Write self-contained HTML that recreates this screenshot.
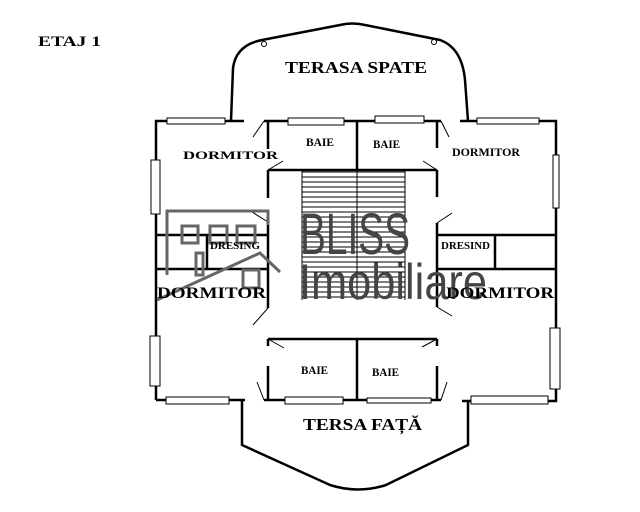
<!DOCTYPE html>
<html><head><meta charset="utf-8"><style>html,body{margin:0;padding:0;background:#fff}svg{display:block}</style></head>
<body>
<svg width="640" height="512" viewBox="0 0 640 512" xmlns="http://www.w3.org/2000/svg" font-family="Liberation Serif, serif" font-weight="bold">
<rect width="640" height="512" fill="#fff"/>
<g stroke="#000" fill="none" stroke-width="2.5">
<path d="M156 400 V121 H244"/>
<path d="M460 121 H556 V401 H462"/>
<path d="M156 400 H245"/>
<path d="M231 121 L233 68 Q236 45 262 40 L340 25 Q352 22 365 25 L440 40 Q462 48 465 80 L468 121"/>
<path d="M242 401 V445 L330 485 Q358 494 386 485 L468 445 V401"/>
<path d="M264 121 H441"/>
<path d="M268 121 V149 M268 170 V198 M268 222 V308 M268 339 V346 M268 366 V400"/>
<path d="M437 121 V148 M437 170 V197 M437 223 V307 M437 339 V346 M437 366 V400"/>
<path d="M268 170 H437 M357 121 V170"/>
<path d="M268 339 H437 M357 339 V400"/>
<path d="M264 400 H441"/>
<path d="M156 235 H268 M156 269 H268 M207 235 V269"/>
<path d="M437 235 H556 M437 269 H556 M495 235 V269"/>
</g>
<g stroke="#000" stroke-width="1" fill="none">
<path d="M264 121 L253 137 M268 170 L283 161 M268 222 L252 212 M268 308 L253 325 M268 339 L284 348 M264 400 L257 382"/>
<path d="M441 121 L449 137 M437 170 L423 161 M437 223 L452 213 M437 307 L452 316 M437 339 L422 347 M441 400 L447 382"/>
<path d="M302 172 H405 M302 177 H405 M302 182 H405 M302 187 H405 M302 192 H405 M302 197 H405 M302 202 H405 M302 207 H405 M302 212 H405 M302 217 H405 M302 222 H405 M302 227 H405 M302 232 H405 M302 237 H405 M302 242 H405 M302 247 H405 M302 252 H405 M302 257 H405 M302 262 H405 M302 267 H405 M302 272 H405 M302 277 H405 M302 282 H405 M302 287 H405 M302 292 H405 M302 297 H405"/>
<path d="M302 170 V300 M405 170 V300 M357 170 V300"/>
</g>
<g stroke="#000" stroke-width="1" fill="#fff">
<rect x="167" y="118" width="58" height="6"/>
<rect x="288" y="118" width="56" height="7"/>
<rect x="375" y="116" width="49" height="7"/>
<rect x="477" y="118" width="62" height="6"/>
<rect x="151" y="160" width="9" height="54"/>
<rect x="553" y="155" width="6" height="53"/>
<rect x="150" y="336" width="10" height="50"/>
<rect x="550" y="328" width="10" height="61"/>
<rect x="166" y="397" width="63" height="7"/>
<rect x="285" y="397" width="58" height="7"/>
<rect x="367" y="398" width="64" height="5"/>
<rect x="471" y="396" width="77" height="8"/>
<circle cx="264" cy="44" r="2.5"/>
<circle cx="434" cy="42" r="2.5"/>
</g>
<g stroke="#666" stroke-width="3" fill="none">
<path d="M167 275 V211 H268 V225"/>
<rect x="182" y="226" width="16" height="17"/>
<rect x="210" y="226" width="17" height="17"/>
<rect x="237" y="226" width="18" height="17"/>
<rect x="196" y="253" width="7" height="22"/>
<rect x="243" y="270" width="16" height="18"/>
<path d="M157 300 L260 253 L280 272"/>
</g>
<text x="300" y="254" font-family="Liberation Sans, sans-serif" font-weight="normal" font-size="58" fill="#444" textLength="110" lengthAdjust="spacingAndGlyphs">BLISS</text>
<text x="299" y="299" font-family="Liberation Sans, sans-serif" font-weight="normal" font-size="50" fill="#444" textLength="188" lengthAdjust="spacingAndGlyphs">Imobiliare</text>
<g fill="#000">
<text x="38" y="46" font-size="15" textLength="63" lengthAdjust="spacingAndGlyphs">ETAJ 1</text>
<text x="285" y="73" font-size="17" textLength="142" lengthAdjust="spacingAndGlyphs">TERASA SPATE</text>
<text x="183" y="159" font-size="12" textLength="95" lengthAdjust="spacingAndGlyphs">DORMITOR</text>
<text x="306" y="146" font-size="12" textLength="28" lengthAdjust="spacingAndGlyphs">BAIE</text>
<text x="373" y="148" font-size="12" textLength="27" lengthAdjust="spacingAndGlyphs">BAIE</text>
<text x="452" y="156" font-size="12" textLength="68" lengthAdjust="spacingAndGlyphs">DORMITOR</text>
<text x="210" y="249" font-size="11" textLength="50" lengthAdjust="spacingAndGlyphs">DRESING</text>
<text x="441" y="249" font-size="11" textLength="49" lengthAdjust="spacingAndGlyphs">DRESIND</text>
<text x="157" y="298" font-size="16" textLength="109" lengthAdjust="spacingAndGlyphs">DORMITOR</text>
<text x="446" y="298" font-size="16" textLength="108" lengthAdjust="spacingAndGlyphs">DORMITOR</text>
<text x="301" y="374" font-size="12" textLength="27" lengthAdjust="spacingAndGlyphs">BAIE</text>
<text x="372" y="376" font-size="12" textLength="27" lengthAdjust="spacingAndGlyphs">BAIE</text>
<text x="303" y="430" font-size="17" textLength="119" lengthAdjust="spacingAndGlyphs">TERSA FAȚĂ</text>
</g>
</svg>
</body></html>
